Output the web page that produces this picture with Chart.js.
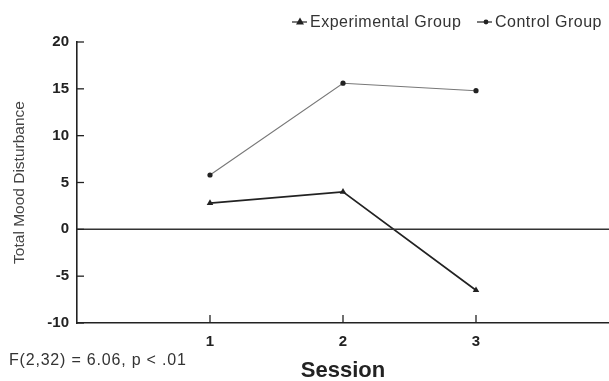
<!DOCTYPE html>
<html><head><meta charset="utf-8">
<script src="https://cdn.jsdelivr.net/npm/chart.js@4.4.1/dist/chart.umd.min.js"></script>
<style>html,body{margin:0;padding:0;background:#fff}#wrap{width:609px;height:381px}</style>
</head><body><div id="wrap"><canvas id="c" width="609" height="381"></canvas></div>
<script>
const sessions = [1, 2, 3];
const experimental = [2.8, 4.0, -6.5];
const control = [5.8, 15.6, 14.8];
const yTicks = [-10, -5, 0, 5, 10, 15, 20];
const seriesLabels = ['Experimental Group', 'Control Group'];
const statText = 'F(2,32) = 6.06, p < .01';
const xTitle = 'Session';
const yTitle = 'Total Mood Disturbance';

const FONT = '"Liberation Sans", Arial, sans-serif';

const extras = {
  id: 'extras',
  afterDraw(chart) {
    const ctx = chart.ctx;
    const xs = chart.scales.x, ys = chart.scales.y;
    const a = chart.chartArea;
    ctx.save();
    // zero line
    ctx.strokeStyle = '#333'; ctx.lineWidth = 1.5;
    const y0 = ys.getPixelForValue(0);
    ctx.beginPath(); ctx.moveTo(a.left, y0); ctx.lineTo(a.right, y0); ctx.stroke();
    // inside ticks
    ctx.lineWidth = 1.3; ctx.strokeStyle = '#222';
    yTicks.forEach(v => { const p = ys.getPixelForValue(v); ctx.beginPath(); ctx.moveTo(a.left, p); ctx.lineTo(a.left + 7, p); ctx.stroke(); });
    sessions.forEach(v => { const p = xs.getPixelForValue(v); ctx.beginPath(); ctx.moveTo(p, a.bottom); ctx.lineTo(p, a.bottom - 8); ctx.stroke(); });
    // stat text
    ctx.fillStyle = '#333'; ctx.font = '16px ' + FONT; ctx.textAlign = 'left'; ctx.textBaseline = 'middle';
    try { ctx.letterSpacing = '0.8px'; } catch (e) {}
    ctx.fillText(statText, 9, 361);
    // x title
    try { ctx.letterSpacing = '0px'; } catch (e) {}
    ctx.font = 'bold 22px ' + FONT; ctx.fillStyle = '#222'; ctx.textAlign = 'center';
    ctx.fillText(xTitle, (a.left + a.right) / 2, 371);
    // legend
    ctx.textAlign = 'left';
    ctx.font = '16px ' + FONT;
    try { ctx.letterSpacing = '0.5px'; } catch (e) {}
    const ds = chart.data.datasets;
    const items = [{x: 292, ds: ds[0]}, {x: 477, ds: ds[1]}];
    items.forEach(it => {
      const y = 22;
      ctx.strokeStyle = '#333'; ctx.lineWidth = 1.3;
      ctx.beginPath(); ctx.moveTo(it.x, y); ctx.lineTo(it.x + 15, y); ctx.stroke();
      ctx.fillStyle = '#222';
      if (it.ds.pointStyle === 'triangle') {
        ctx.beginPath(); ctx.moveTo(it.x + 8, y - 4.5); ctx.lineTo(it.x + 12, y + 2.5); ctx.lineTo(it.x + 4, y + 2.5); ctx.closePath(); ctx.fill();
      } else {
        ctx.beginPath(); ctx.arc(it.x + 9, y, 2.4, 0, Math.PI * 2); ctx.fill();
      }
      ctx.fillStyle = '#333';
      ctx.fillText(it.ds.label, it.x + 18, y + 1);
    });
    ctx.restore();
  }
};

new Chart(document.getElementById('c'), {
  type: 'line',
  data: {
    datasets: [
      { label: seriesLabels[0], data: sessions.map((s, i) => ({x: s, y: experimental[i]})),
        borderColor: '#222', borderWidth: 1.7, pointStyle: 'triangle', pointRadius: 3.8,
        pointBackgroundColor: '#222', pointBorderColor: '#222', pointBorderWidth: 0, tension: 0 },
      { label: seriesLabels[1], data: sessions.map((s, i) => ({x: s, y: control[i]})),
        borderColor: '#777', borderWidth: 1.1, pointStyle: 'circle', pointRadius: 2.6,
        pointBackgroundColor: '#222', pointBorderColor: '#222', pointBorderWidth: 0, tension: 0 }
    ]
  },
  options: {
    responsive: false, animation: false, devicePixelRatio: 1,
    layout: { autoPadding: false, padding: { top: 42, right: 0, left: 0, bottom: 0 } },
    plugins: { legend: { display: false }, tooltip: { enabled: false } },
    scales: {
      x: {
        type: 'linear', min: 0, max: 4,
        afterBuildTicks: s => { s.ticks = sessions.map(v => ({value: v})); },
        afterFit: s => { s.height = 58; },
        grid: { display: false, drawTicks: false },
        border: { display: true, color: '#222', width: 1.6 },
        ticks: { padding: 10, color: '#222', font: { family: FONT, size: 15, weight: 'bold' } }
      },
      y: {
        min: -10, max: 20,
        afterBuildTicks: s => { s.ticks = yTicks.map(v => ({value: v})); },
        afterFit: s => { s.width = 77; },
        grid: { display: false, drawTicks: false },
        border: { display: true, color: '#222', width: 1.6 },
        ticks: { padding: 8, color: '#222', font: { family: FONT, size: 15, weight: 'bold' } },
        title: { display: true, text: yTitle, color: '#444', padding: { top: 10, bottom: 0 }, font: { family: FONT, size: 15.5 } }
      }
    }
  },
  plugins: [extras]
});
</script></body></html>
